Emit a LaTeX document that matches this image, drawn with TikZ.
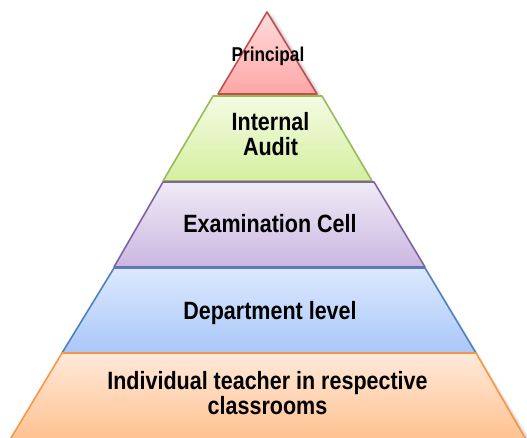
\documentclass[tikz,border=0pt]{standalone}
\usepackage{fontspec}
\newfontfamily\labfont[FakeStretch=0.86]{Liberation Sans Bold}
\definecolor{rBd}{HTML}{C0504D}\definecolor{rT}{HTML}{FFDCDC}\definecolor{rB}{HTML}{FFA6A6}
\definecolor{gBd}{HTML}{9BBB59}\definecolor{gT}{HTML}{F4FBE4}\definecolor{gB}{HTML}{D5EF9F}
\definecolor{pBd}{HTML}{8064A2}\definecolor{pT}{HTML}{EFEAF7}\definecolor{pB}{HTML}{CBB7E1}
\definecolor{bBd}{HTML}{4F81BD}\definecolor{bT}{HTML}{DDE9FD}\definecolor{bB}{HTML}{A9C7F9}
\definecolor{oBd}{HTML}{F79646}\definecolor{oT}{HTML}{FFE9DA}\definecolor{oB}{HTML}{FFC08E}
\begin{document}
\begin{tikzpicture}[x=1pt,y=1pt,
  layer/.style={line width=1.6pt,line join=round},
  lab/.style={font=\labfont\fontsize{25}{25}\selectfont,align=center,inner sep=0pt,text=black}]
\useasboundingbox (0,0) rectangle (527,438);
\clip (0,0) rectangle (527,438);
% soft shadow
\foreach \i in {1,...,6}{
  \fill[black,opacity=0.035] ([shift={(\i*1.1,-\i*0.5)}]267,426) -- ([shift={(\i*1.1,-\i*0.5)}]528,-5) -- ([shift={(\i*1.1,-\i*0.5)}]8,-5) -- cycle;
}
% Principal
\draw[layer,draw=rBd,top color=rT,bottom color=rB] (267,426) -- (317,344) -- (218,344) -- cycle;
% Internal Audit
\draw[layer,draw=gBd,top color=gT,bottom color=gB] (213,342) -- (322,342) -- (372,257) -- (163,257) -- cycle;
% Examination Cell
\draw[layer,draw=pBd,top color=pT,bottom color=pB] (163,256) -- (374,256) -- (425,171) -- (114,171) -- cycle;
% Department level
\draw[layer,draw=bBd,top color=bT,bottom color=bB] (114,170) -- (425,170) -- (476,85) -- (62,85) -- cycle;
% Individual teacher
\draw[layer,draw=oBd,top color=oT,bottom color=oB] (62,85) -- (476,85) -- (528,-5) -- (8,-5) -- cycle;
% labels
\node[lab,font=\labfont\fontsize{20}{20}\selectfont,anchor=base] (principal) at (268,376) {Principal};
\node[lab,anchor=base] (audit) at (270.5,282) {Internal\\Audit};
\node[lab,anchor=base] (exam) at (270,205) {Examination Cell};
\node[lab,anchor=base] (dept) at (270,118) {Department level};
\node[lab,anchor=base] (indiv) at (267.5,23) {Individual teacher in respective\\classrooms};
\end{tikzpicture}
\end{document}
